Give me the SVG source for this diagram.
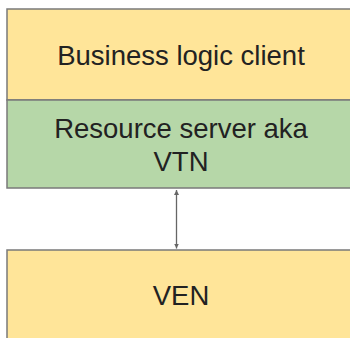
<svg xmlns="http://www.w3.org/2000/svg" width="350" height="338" viewBox="0 0 350 338">
  <defs>
    <style>
      .box { stroke: #7a7a7a; stroke-width: 1.5; }
      .yellow { fill: #FFE599; }
      .green { fill: #B6D7A8; }
      .label { font-family: "Liberation Sans", Arial, sans-serif; font-size: 27.5px; fill: #222222; text-anchor: middle; }
      .conn { stroke: #666666; stroke-width: 1.3; fill: none; }
    </style>
    <marker id="arrowEnd" viewBox="0 0 10 10" refX="10" refY="5" markerWidth="5" markerHeight="6" markerUnits="userSpaceOnUse" orient="auto">
      <path d="M0,0 L10,5 L0,10 z" fill="#666666"/>
    </marker>
    <marker id="arrowStart" viewBox="0 0 10 10" refX="0" refY="5" markerWidth="5" markerHeight="6" markerUnits="userSpaceOnUse" orient="auto">
      <path d="M10,0 L0,5 L10,10 z" fill="#666666"/>
    </marker>
  </defs>
  <rect width="350" height="338" fill="#ffffff"/>
  <g id="business-logic-client">
    <rect class="box yellow" x="7" y="9" width="350" height="91"/>
    <text class="label" x="181" y="65">Business logic client</text>
  </g>
  <g id="resource-server">
    <rect class="box green" x="7" y="100" width="350" height="88"/>
    <text class="label" x="181" y="138">Resource server aka</text>
    <text class="label" x="181" y="171">VTN</text>
  </g>
  <g id="ven">
    <rect class="box yellow" x="7" y="250" width="350" height="95"/>
    <text class="label" x="181" y="305">VEN</text>
  </g>
  <g id="connectors">
    <line class="conn" x1="176.5" y1="190" x2="176.5" y2="248.5" marker-start="url(#arrowStart)" marker-end="url(#arrowEnd)"/>
  </g>
</svg>
